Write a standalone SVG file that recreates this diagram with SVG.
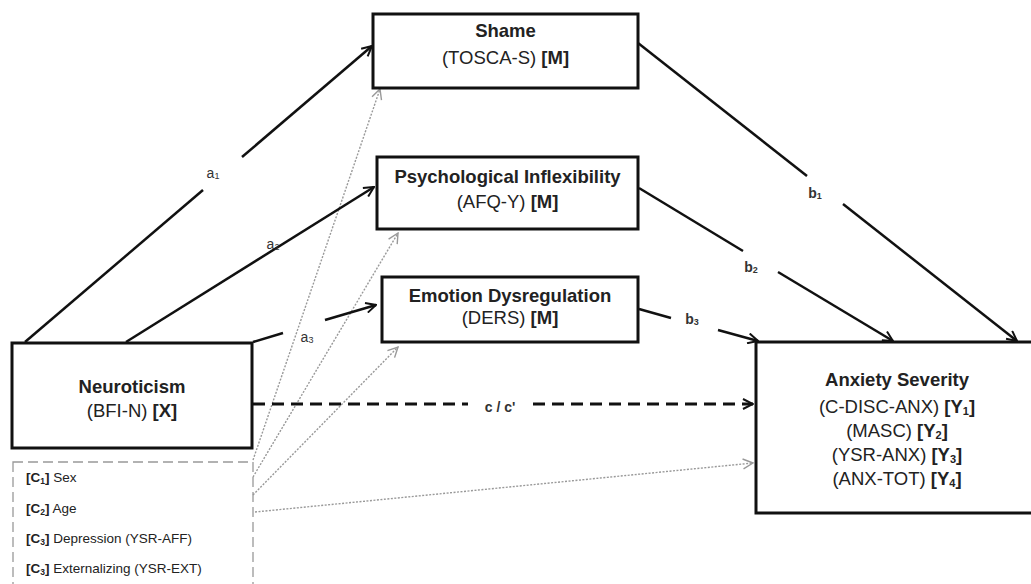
<svg xmlns="http://www.w3.org/2000/svg" width="1031" height="584" viewBox="0 0 1031 584">
<style>
.box{fill:#fff;stroke:#111;stroke-width:3}
.cov{fill:#fff;stroke:#999;stroke-width:1.3;stroke-dasharray:10 5}
.t{font-family:"Liberation Sans",Arial,sans-serif;font-size:18.5px;fill:#222;text-anchor:middle}
.b{font-weight:bold}
.ct{font-family:"Liberation Sans",Arial,sans-serif;font-size:13.5px;fill:#222}
.lab{font-family:"Liberation Sans",Arial,sans-serif;font-size:14px;fill:#333;text-anchor:middle}
.sol{stroke:#111;stroke-width:2.5;fill:none}
.dash{stroke:#111;stroke-width:3;stroke-dasharray:12 7;fill:none}
.dot{stroke:#999;stroke-width:1.4;stroke-dasharray:2 1.5;fill:none}
</style>
<defs>
<marker id="ah" viewBox="0 0 12 12" refX="11" refY="6" markerWidth="12" markerHeight="12" markerUnits="userSpaceOnUse" orient="auto"><path d="M1,1 L11,6 L1,11" fill="none" stroke="#111" stroke-width="2"/></marker>
<marker id="ahg" viewBox="0 0 12 12" refX="11" refY="6" markerWidth="12" markerHeight="12" markerUnits="userSpaceOnUse" orient="auto"><path d="M1,1 L11,6 L1,11" fill="none" stroke="#999" stroke-width="1.4"/></marker>
</defs>
<rect width="1031" height="584" fill="#fff"/>

<g id="covariates">
<rect class="cov" x="13" y="462" width="240" height="140"/>
<text class="ct" x="26" y="482"><tspan class="b">[C<tspan font-size="8.5" dy="2">1</tspan><tspan dy="-2">]</tspan></tspan> Sex</text>
<text class="ct" x="26" y="513"><tspan class="b">[C<tspan font-size="8.5" dy="2">2</tspan><tspan dy="-2">]</tspan></tspan> Age</text>
<text class="ct" x="26" y="543"><tspan class="b">[C<tspan font-size="8.5" dy="2">3</tspan><tspan dy="-2">]</tspan></tspan> Depression (YSR-AFF)</text>
<text class="ct" x="26" y="573"><tspan class="b">[C<tspan font-size="8.5" dy="2">3</tspan><tspan dy="-2">]</tspan></tspan> Externalizing (YSR-EXT)</text>
</g>

<g id="connectors">
<line class="dot" x1="253" y1="460" x2="380" y2="89" marker-end="url(#ahg)"/>
<line class="dot" x1="253" y1="477" x2="398" y2="233" marker-end="url(#ahg)"/>
<line class="dot" x1="253" y1="495" x2="398" y2="347" marker-end="url(#ahg)"/>
<line class="dot" x1="255" y1="512" x2="753" y2="463" marker-end="url(#ahg)"/>
<line class="sol" x1="25" y1="342" x2="203" y2="190"/>
<line class="sol" x1="242" y1="157" x2="372" y2="46" marker-end="url(#ah)"/>
<line class="sol" x1="126" y1="342" x2="374" y2="187" marker-end="url(#ah)"/>
<line class="sol" x1="253" y1="342" x2="283" y2="333"/>
<line class="sol" x1="325" y1="320" x2="376" y2="305" marker-end="url(#ah)"/>
<line class="sol" x1="638" y1="43" x2="807" y2="176"/>
<line class="sol" x1="843" y1="204" x2="1017" y2="341" marker-end="url(#ah)"/>
<line class="sol" x1="639" y1="188" x2="743" y2="251"/>
<line class="sol" x1="778" y1="272" x2="893" y2="341" marker-end="url(#ah)"/>
<line class="sol" x1="639" y1="309" x2="671" y2="318"/>
<line class="sol" x1="718" y1="330" x2="758" y2="341" marker-end="url(#ah)"/>
<line class="dash" x1="253" y1="404" x2="468" y2="404"/>
<line class="dash" x1="533" y1="404" x2="753" y2="404" marker-end="url(#ah)"/>
<text class="lab" x="213" y="178">a<tspan font-size="9" dy="1">1</tspan></text>
<text class="lab" x="273" y="249">a<tspan font-size="9" dy="1">2</tspan></text>
<text class="lab" x="307" y="342">a<tspan font-size="9" dy="1">3</tspan></text>
<text class="lab b" x="815" y="198">b<tspan font-size="9" dy="1">1</tspan></text>
<text class="lab b" x="751" y="272">b<tspan font-size="9" dy="1">2</tspan></text>
<text class="lab b" x="692" y="324">b<tspan font-size="9" dy="1">3</tspan></text>
<text class="lab b" x="500" y="412">c / c'</text>
</g>

<g id="shame">
<rect class="box" x="373" y="14" width="265" height="74"/>
<text class="t b" x="505.5" y="37">Shame</text>
<text class="t" x="505.5" y="64">(TOSCA-S) <tspan class="b">[M]</tspan></text>
</g>

<g id="psych">
<rect class="box" x="377" y="157" width="261" height="72"/>
<text class="t b" x="507.5" y="183">Psychological Inflexibility</text>
<text class="t" x="507.5" y="208">(AFQ-Y) <tspan class="b">[M]</tspan></text>
</g>

<g id="emotion">
<rect class="box" x="382" y="277" width="256" height="65"/>
<text class="t b" x="510" y="302">Emotion Dysregulation</text>
<text class="t" x="510" y="324">(DERS) <tspan class="b">[M]</tspan></text>
</g>

<g id="neuroticism">
<rect class="box" x="12" y="343" width="240" height="105"/>
<text class="t b" x="132" y="393">Neuroticism</text>
<text class="t" x="132" y="417">(BFI-N) <tspan class="b">[X]</tspan></text>
</g>

<g id="anxiety">
<rect class="box" x="756" y="342" width="285" height="171"/>
<text class="t b" x="897" y="386">Anxiety Severity</text>
<text class="t" x="897" y="413">(C-DISC-ANX) <tspan class="b">[Y<tspan font-size="11" dy="2">1</tspan><tspan dy="-2">]</tspan></tspan></text>
<text class="t" x="897" y="437">(MASC) <tspan class="b">[Y<tspan font-size="11" dy="2">2</tspan><tspan dy="-2">]</tspan></tspan></text>
<text class="t" x="897" y="461">(YSR-ANX) <tspan class="b">[Y<tspan font-size="11" dy="2">3</tspan><tspan dy="-2">]</tspan></tspan></text>
<text class="t" x="897" y="485">(ANX-TOT) <tspan class="b">[Y<tspan font-size="11" dy="2">4</tspan><tspan dy="-2">]</tspan></tspan></text>
</g>
</svg>
